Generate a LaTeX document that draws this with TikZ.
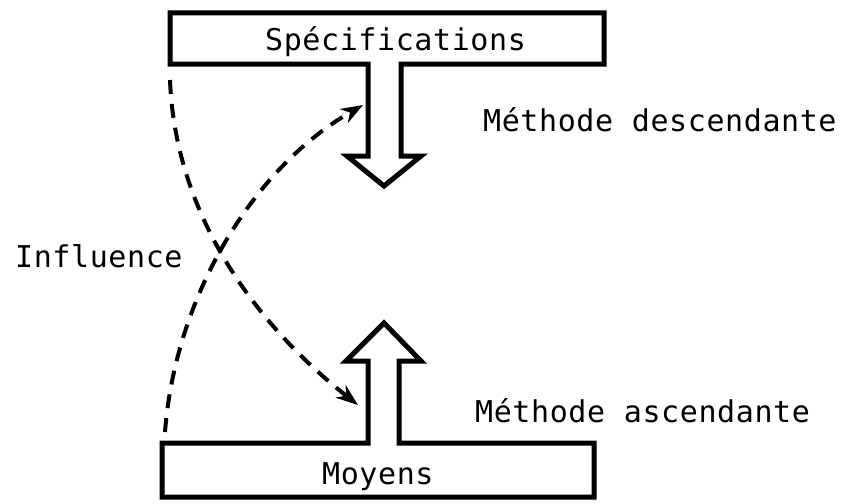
\documentclass[tikz,border=0pt]{standalone}
\usepackage{fontspec}
\newfontfamily\plotfont[LetterSpace=2]{DejaVu Sans Mono}
\usetikzlibrary{arrows.meta}
\begin{document}
\begin{tikzpicture}[x=1pt,y=-1pt,
  block/.style={line width=5pt,line join=miter,draw=black},
  label/.style={font=\plotfont\fontsize{30}{34}\selectfont,inner sep=0pt,anchor=base west},
  influence/.style={line width=4pt,dash pattern=on 14pt off 10pt,
    -{Stealth[length=22pt,width=16pt,inset=7pt]}}]
  \useasboundingbox (0,0) rectangle (850,503);

  % upper block: box with a downward hollow arrow
  \draw[block] (170,13) -- (604,13) -- (604,64) -- (401,64) -- (401,156)
    -- (421,156) -- (384,186) -- (347,156) -- (368,156) -- (368,64)
    -- (170,64) -- cycle;
  % lower block: box with an upward hollow arrow
  \draw[block] (162,443) -- (368,443) -- (368,361) -- (346,361) -- (384,323)
    -- (421,361) -- (399,361) -- (399,443) -- (594,443) -- (594,497)
    -- (162,497) -- cycle;

  \node[label] (spec) at (265,50) {Spécifications};
  \node[label] (moy) at (322,484) {Moyens};
  \node[label] (desc) at (483,131) {Méthode descendante};
  \node[label] (asc) at (475,422) {Méthode ascendante};
  \node[label] (infl) at (15,267) {Influence};

  \coordinate (s1) at (170,80);
  \coordinate (e1) at (358,405);
  \coordinate (s2) at (165,432);
  \coordinate (e2) at (363,105);

  \draw[influence] (s1) .. controls (175,210) and (250,320) .. (e1);
  \draw[influence] (s2) .. controls (175,300) and (250,170) .. (e2);
\end{tikzpicture}
\end{document}
